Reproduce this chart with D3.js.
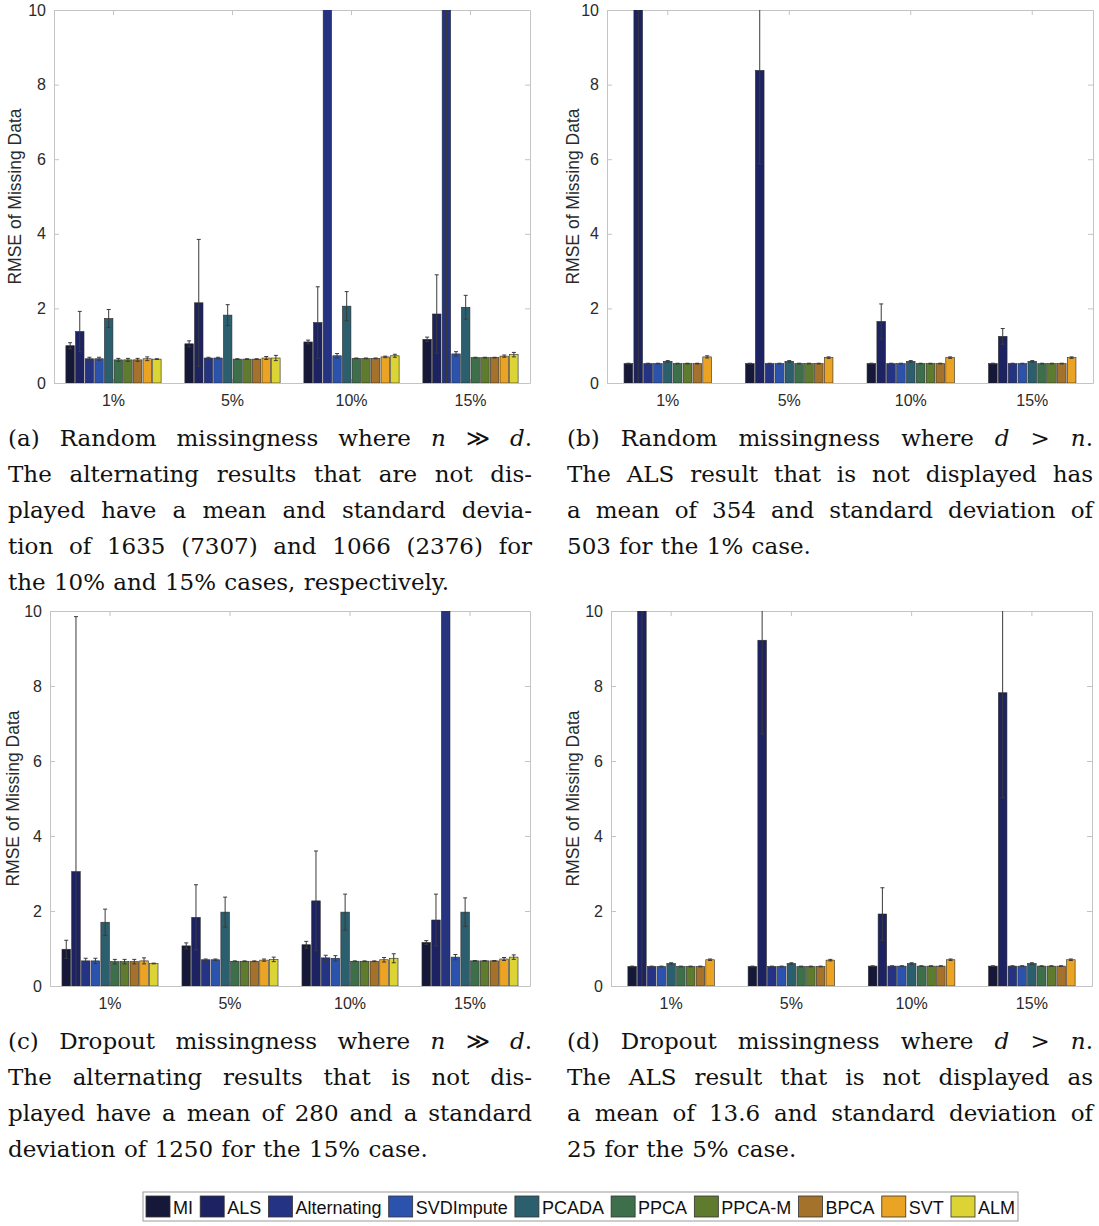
<!DOCTYPE html>
<html>
<head>
<meta charset="utf-8">
<script src="https://cdn.jsdelivr.net/npm/d3@7"></script>
<style>
  body { margin: 0; background: #fff; }
  svg { display: block; }
</style>
</head>
<body>
<div id="fig"></div>
<script>
// methods and categories
var methods = ["MI", "ALS", "Alternating", "SVDImpute", "PCADA", "PPCA", "PPCA-M", "BPCA", "SVT", "ALM"];
var colors = ["#16183a", "#1d2262", "#243384", "#2b52ad", "#2b5f6e", "#3d6f4b", "#5f7b2d", "#a4722a", "#eaa323", "#dcd334"];
var categories = ["1%", "5%", "10%", "15%"];
var yTicks = [0, 2, 4, 6, 8, 10];

// (a) random, n >> d  (rows = categories, cols = methods)
var meanA = [
  [1.00, 1.38, 0.65, 0.65, 1.73, 0.62, 0.62, 0.62, 0.65, 0.64],
  [1.05, 2.15, 0.67, 0.67, 1.82, 0.64, 0.64, 0.64, 0.67, 0.67],
  [1.10, 1.62, 1635, 0.73, 2.06, 0.66, 0.66, 0.66, 0.70, 0.73],
  [1.17, 1.85, 1066, 0.78, 2.03, 0.68, 0.68, 0.68, 0.72, 0.76]
];
var errA = [
  [0.08, 0.54, 0.04, 0.04, 0.24, 0.04, 0.04, 0.04, 0.05, 0.01],
  [0.08, 1.70, 0.02, 0.02, 0.28, 0.01, 0.01, 0.01, 0.04, 0.07],
  [0.05, 0.96, 7307, 0.06, 0.39, 0.01, 0.01, 0.01, 0.02, 0.04],
  [0.06, 1.05, 2376, 0.06, 0.32, 0.01, 0.01, 0.01, 0.03, 0.06]
];
// (b) random, d > n  (no ALM)
var meanB = [
  [0.52, 354, 0.52, 0.52, 0.58, 0.52, 0.52, 0.52, 0.70],
  [0.52, 8.38, 0.52, 0.52, 0.58, 0.52, 0.52, 0.52, 0.68],
  [0.52, 1.65, 0.52, 0.52, 0.58, 0.52, 0.52, 0.52, 0.68],
  [0.52, 1.25, 0.52, 0.52, 0.58, 0.52, 0.52, 0.52, 0.68]
];
var errB = [
  [0.01, 503, 0.01, 0.01, 0.02, 0.01, 0.01, 0.01, 0.03],
  [0.01, 2.50, 0.01, 0.01, 0.02, 0.01, 0.01, 0.01, 0.02],
  [0.01, 0.47, 0.01, 0.01, 0.02, 0.01, 0.01, 0.01, 0.02],
  [0.01, 0.21, 0.01, 0.01, 0.02, 0.01, 0.01, 0.01, 0.02]
];
// (c) dropout, n >> d
var meanC = [
  [0.98, 3.05, 0.67, 0.67, 1.70, 0.65, 0.65, 0.65, 0.67, 0.60],
  [1.07, 1.83, 0.70, 0.70, 1.97, 0.66, 0.66, 0.66, 0.69, 0.71],
  [1.10, 2.27, 0.75, 0.74, 1.97, 0.66, 0.66, 0.66, 0.70, 0.74],
  [1.16, 1.76, 280, 0.77, 1.97, 0.67, 0.67, 0.67, 0.72, 0.77]
];
var errC = [
  [0.24, 6.80, 0.07, 0.07, 0.35, 0.06, 0.06, 0.06, 0.08, 0.01],
  [0.08, 0.87, 0.02, 0.02, 0.40, 0.01, 0.01, 0.01, 0.03, 0.06],
  [0.09, 1.33, 0.07, 0.07, 0.48, 0.01, 0.01, 0.01, 0.06, 0.12],
  [0.05, 0.69, 1250, 0.07, 0.38, 0.01, 0.01, 0.01, 0.04, 0.06]
];
// (d) dropout, d > n  (no ALM)
var meanD = [
  [0.52, 13.6, 0.52, 0.52, 0.60, 0.52, 0.52, 0.52, 0.70],
  [0.52, 9.22, 0.52, 0.52, 0.60, 0.52, 0.52, 0.52, 0.69],
  [0.53, 1.92, 0.53, 0.53, 0.60, 0.53, 0.53, 0.53, 0.70],
  [0.53, 7.82, 0.53, 0.53, 0.60, 0.53, 0.53, 0.53, 0.70]
];
var errD = [
  [0.01, 25.0, 0.01, 0.01, 0.02, 0.01, 0.01, 0.01, 0.02],
  [0.01, 2.50, 0.01, 0.01, 0.02, 0.01, 0.01, 0.01, 0.02],
  [0.01, 0.70, 0.01, 0.01, 0.02, 0.01, 0.01, 0.01, 0.02],
  [0.01, 2.80, 0.01, 0.01, 0.02, 0.01, 0.01, 0.01, 0.02]
];

var capA = ["(a) Random missingness where n ≫ d.",
            "The alternating results that are not dis-",
            "played have a mean and standard devia-",
            "tion of 1635 (7307) and 1066 (2376) for",
            "the 10% and 15% cases, respectively."];
var capB = ["(b) Random missingness where d > n.",
            "The ALS result that is not displayed has",
            "a mean of 354 and standard deviation of",
            "503 for the 1% case."];
var capC = ["(c) Dropout missingness where n ≫ d.",
            "The alternating results that is not dis-",
            "played have a mean of 280 and a standard",
            "deviation of 1250 for the 15% case."];
var capD = ["(d) Dropout missingness where d > n.",
            "The ALS result that is not displayed as",
            "a mean of 13.6 and standard deviation of",
            "25 for the 5% case."];

var W = 1099, H = 1226;
var sans = "'Liberation Sans', Arial, Helvetica, sans-serif";
var serif = "'DejaVu Serif', 'Liberation Serif', serif";

var svg = d3.select("#fig").append("svg")
    .attr("width", W).attr("height", H);

var panels = [
  {id: "a", x0: 54, x1: 530, y0: 10, y1: 383, labX: 15, mean: meanA, err: errA, cap: capA, capX: 8, capW: 524, capY: 446},
  {id: "b", x0: 607, x1: 1093, y0: 10, y1: 383, labX: 573, mean: meanB, err: errB, cap: capB, capX: 567, capW: 526, capY: 446},
  {id: "c", x0: 50, x1: 530, y0: 611, y1: 986, labX: 13, mean: meanC, err: errC, cap: capC, capX: 8, capW: 524, capY: 1049},
  {id: "d", x0: 611, x1: 1092, y0: 611, y1: 986, labX: 573, mean: meanD, err: errD, cap: capD, capX: 567, capW: 526, capY: 1049}
];

panels.forEach(function(p) {
  var x = d3.scaleBand().domain(categories).range([p.x0, p.x1]).padding(0);
  var y = d3.scaleLinear().domain([0, 10]).range([p.y1, p.y0]);
  var nSer = p.mean[0].length;
  var slot = x.bandwidth() * 0.081;
  var xs = d3.scaleBand().domain(d3.range(nSer))
      .range([-slot * nSer / 2, slot * nSer / 2]).paddingInner(0.12).paddingOuter(0.06);

  var g = svg.append("g");

  g.append("clipPath").attr("id", "clip" + p.id)
    .append("rect").attr("x", p.x0).attr("y", p.y0)
    .attr("width", p.x1 - p.x0).attr("height", p.y1 - p.y0);

  // axes box
  var axStyle = function(sel) {
    sel.select(".domain").attr("stroke", "#c4c4c4");
    sel.selectAll(".tick line").attr("stroke", "#c4c4c4");
    sel.selectAll("text").attr("fill", "#2a2a2a").style("font-family", sans).style("font-size", "16px");
  };
  g.append("g").attr("transform", "translate(" + p.x0 + ",0)")
    .call(d3.axisLeft(y).tickValues(yTicks).tickSize(-5).tickPadding(8).tickSizeOuter(0))
    .call(axStyle);
  g.append("g").attr("transform", "translate(" + p.x1 + ",0)")
    .call(d3.axisRight(y).tickValues(yTicks).tickSize(-5).tickFormat("").tickSizeOuter(0))
    .call(axStyle);
  g.append("g").attr("transform", "translate(0," + p.y1 + ")")
    .call(d3.axisBottom(x).tickSize(-4).tickPadding(12).tickSizeOuter(0))
    .call(axStyle);
  g.append("g").attr("transform", "translate(0," + p.y0 + ")")
    .call(d3.axisTop(x).tickSize(-5).tickFormat("").tickSizeOuter(0))
    .call(axStyle);

  g.append("text")
    .attr("transform", "translate(" + (p.labX + 6) + "," + ((p.y0 + p.y1) / 2) + ") rotate(-90)")
    .attr("text-anchor", "middle")
    .style("font-family", sans).style("font-size", "17.5px").attr("fill", "#2a2a2a")
    .text("RMSE of Missing Data");

  var cells = [];
  p.mean.forEach(function(row, ci) {
    row.forEach(function(v, mi) {
      cells.push({cat: categories[ci], m: mi, v: v, e: p.err[ci][mi]});
    });
  });

  var plot = g.append("g").attr("clip-path", "url(#clip" + p.id + ")");

  plot.selectAll("rect.bar").data(cells).enter().append("rect")
    .attr("class", "bar")
    .attr("x", function(d) { return x(d.cat) + x.bandwidth() / 2 + xs(d.m); })
    .attr("width", xs.bandwidth())
    .attr("y", function(d) { return y(Math.min(d.v, 11)); })
    .attr("height", function(d) { return y(0) - y(Math.min(d.v, 11)); })
    .attr("fill", function(d) { return colors[d.m]; })
    .attr("stroke", "#2b2b2b").attr("stroke-width", 0.6);

  var eb = plot.selectAll("g.eb").data(cells).enter().append("g").attr("class", "eb")
    .attr("stroke", "#3a3a3a").attr("stroke-width", 1);
  var cx = function(d) { return x(d.cat) + x.bandwidth() / 2 + xs(d.m) + xs.bandwidth() / 2; };
  eb.append("line")
    .attr("x1", cx).attr("x2", cx)
    .attr("y1", function(d) { return y(Math.min(d.v - d.e, 11)); })
    .attr("y2", function(d) { return y(Math.min(d.v + d.e, 11)); });
  eb.append("line")
    .attr("x1", function(d) { return cx(d) - 2; }).attr("x2", function(d) { return cx(d) + 2; })
    .attr("y1", function(d) { return y(Math.min(d.v + d.e, 11)); })
    .attr("y2", function(d) { return y(Math.min(d.v + d.e, 11)); });
  eb.append("line")
    .attr("x1", function(d) { return cx(d) - 2; }).attr("x2", function(d) { return cx(d) + 2; })
    .attr("y1", function(d) { return y(Math.min(d.v - d.e, 11)); })
    .attr("y2", function(d) { return y(Math.min(d.v - d.e, 11)); });

  // caption, justified word by word
  var fs = 23, lh = 36;
  p.cap.forEach(function(line, li) {
    var words = line.split(" ");
    var lg = svg.append("g");
    var nodes = words.map(function(w) {
      var t = lg.append("text").attr("y", p.capY + li * lh)
        .style("font-family", serif).style("font-size", fs + "px").attr("fill", "#111");
      var m = w.match(/^([nd])(\.?)$/);
      if (m) {
        t.append("tspan").style("font-style", "italic").text(m[1]);
        if (m[2]) t.append("tspan").text(m[2]);
      } else {
        t.text(w);
      }
      return t;
    });
    var widths = nodes.map(function(t) { return t.node().getComputedTextLength(); });
    var total = d3.sum(widths);
    var last = li === p.cap.length - 1;
    var gap = last ? fs * 0.36 : (p.capW - total) / (words.length - 1);
    var cxp = p.capX;
    nodes.forEach(function(t, i) {
      t.attr("x", cxp);
      cxp += widths[i] + gap;
    });
  });
});

// legend
var lgX0 = 143, lgX1 = 1018, lgY0 = 1192, lgY1 = 1221;
var leg = svg.append("g");
leg.append("rect").attr("x", lgX0).attr("y", lgY0)
  .attr("width", lgX1 - lgX0).attr("height", lgY1 - lgY0)
  .attr("fill", "#fff").attr("stroke", "#9a9a9a").attr("stroke-width", 1);
var items = leg.selectAll("g.item").data(methods).enter().append("g").attr("class", "item");
items.append("rect").attr("y", lgY0 + 4).attr("width", 24).attr("height", 21)
  .attr("fill", function(d, i) { return colors[i]; })
  .attr("stroke", "#333").attr("stroke-width", 0.8);
items.append("text").attr("y", lgY0 + 21.5)
  .style("font-family", sans).style("font-size", "18px").attr("fill", "#111")
  .text(function(d) { return d; });
var tw = [];
items.select("text").each(function() { tw.push(this.getComputedTextLength()); });
var natural = d3.sum(tw) + methods.length * (24 + 3);
var extra = (lgX1 - lgX0 - 6 - natural) / (methods.length - 1);
var lx = lgX0 + 3;
items.each(function(d, i) {
  var it = d3.select(this);
  it.select("rect").attr("x", lx);
  it.select("text").attr("x", lx + 27);
  lx += 27 + tw[i] + extra;
});
</script>
</body>
</html>
